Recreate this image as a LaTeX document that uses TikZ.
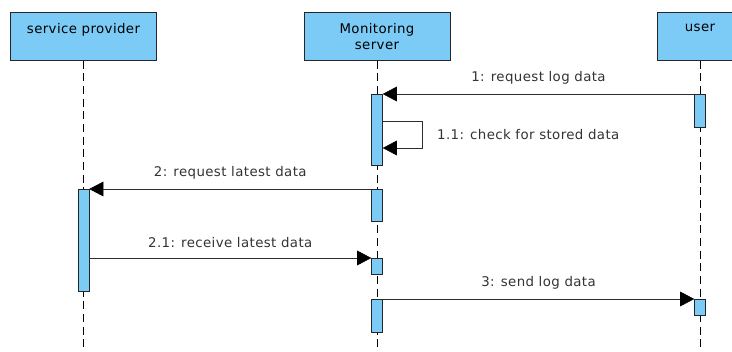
\documentclass[tikz,border=0pt]{standalone}
\usepackage{fontspec}
\setmainfont{DejaVu Sans}[LetterSpace=3]
\usepackage{tikz}
\usetikzlibrary{arrows.meta}

\definecolor{lifeblue}{RGB}{124,203,247}
\definecolor{msggray}{RGB}{45,45,45}

\begin{document}
\begin{tikzpicture}[x=0.75pt, y=-0.75pt,
    font=\fontsize{10}{12}\selectfont,
    headbox/.style={draw=black!85, fill=lifeblue, align=center, anchor=north,
                    minimum width=109.5pt, minimum height=36pt, inner sep=2pt},
    actbar/.style={draw=black!85, fill=lifeblue, anchor=north, inner sep=0pt,
                   minimum width=8.25pt},
    lifeline/.style={draw=black, dash pattern=on 6pt off 3.5pt},
    msg/.style={draw=msggray, -{Triangle[length=10.5pt, width=11pt, color=black]}},
    msglabel/.style={text=black!80, above=4pt}]
        \useasboundingbox (0,0) rectangle (732,352);                       %
        \clip             (0,0) rectangle (732,352);                       %

        % lifelines
        \node[headbox]                            (sp) at (83.5,12) {service provider\\~}; %SP
        \node[headbox]                            (ms) at (377,12)  {Monitoring\\server};  %MS
        \node[headbox, minimum width=64.5pt]      (us) at (700,12)  {user\\~};             %USER
        \coordinate (spend) at (83.5,352);                                 %
        \coordinate (msend) at (377,352);                                  %
        \coordinate (usend) at (700,352);                                  %
        \draw [lifeline] (sp.south) -- (spend);                            %
        \draw [lifeline] (ms.south) -- (msend);                            %
        \draw [lifeline] (us.south) -- (usend);                            %

        % activations
        \node[actbar, minimum height=53.25pt] (ms1) at (377,94)  {};       %MS 1
        \node[actbar, minimum height=24pt]    (ms2) at (377,189) {};       %MS 2
        \node[actbar, minimum height=12pt]    (ms3) at (377,258) {};       %MS 2.1
        \node[actbar, minimum height=24.75pt] (ms4) at (377,299) {};       %MS 3
        \node[actbar, minimum height=76.5pt]  (sp1) at (83.5,189) {};      %SP 2
        \node[actbar, minimum height=24.75pt] (us1) at (700,94)  {};       %USER 1
        \node[actbar, minimum height=12pt]    (us2) at (700,299) {};       %USER 3

        % messages
        \draw [msg] (us1.north west) -- node[msglabel] (m1) {1: request log data} (ms1.north east);
        \draw [msg] (ms1.north east) ++(0,27) -- ++(39,0)
              -- node[right=8pt, text=black!80] (m11) {1.1: check for stored data} ++(0,27)
              -- ++(-39,0);                                                %self
        \draw [msg] (ms2.north west) -- node[msglabel] (m2) {2: request latest data} (sp1.north east);
        \draw [msg] (sp1.east |- ms3.north) -- node[msglabel] (m21) {2.1: receive latest data} (ms3.north west);
        \draw [msg] (ms4.north east) -- node[msglabel] (m3) {3: send log data} (us2.north west);
      \end{tikzpicture}
\end{document}
